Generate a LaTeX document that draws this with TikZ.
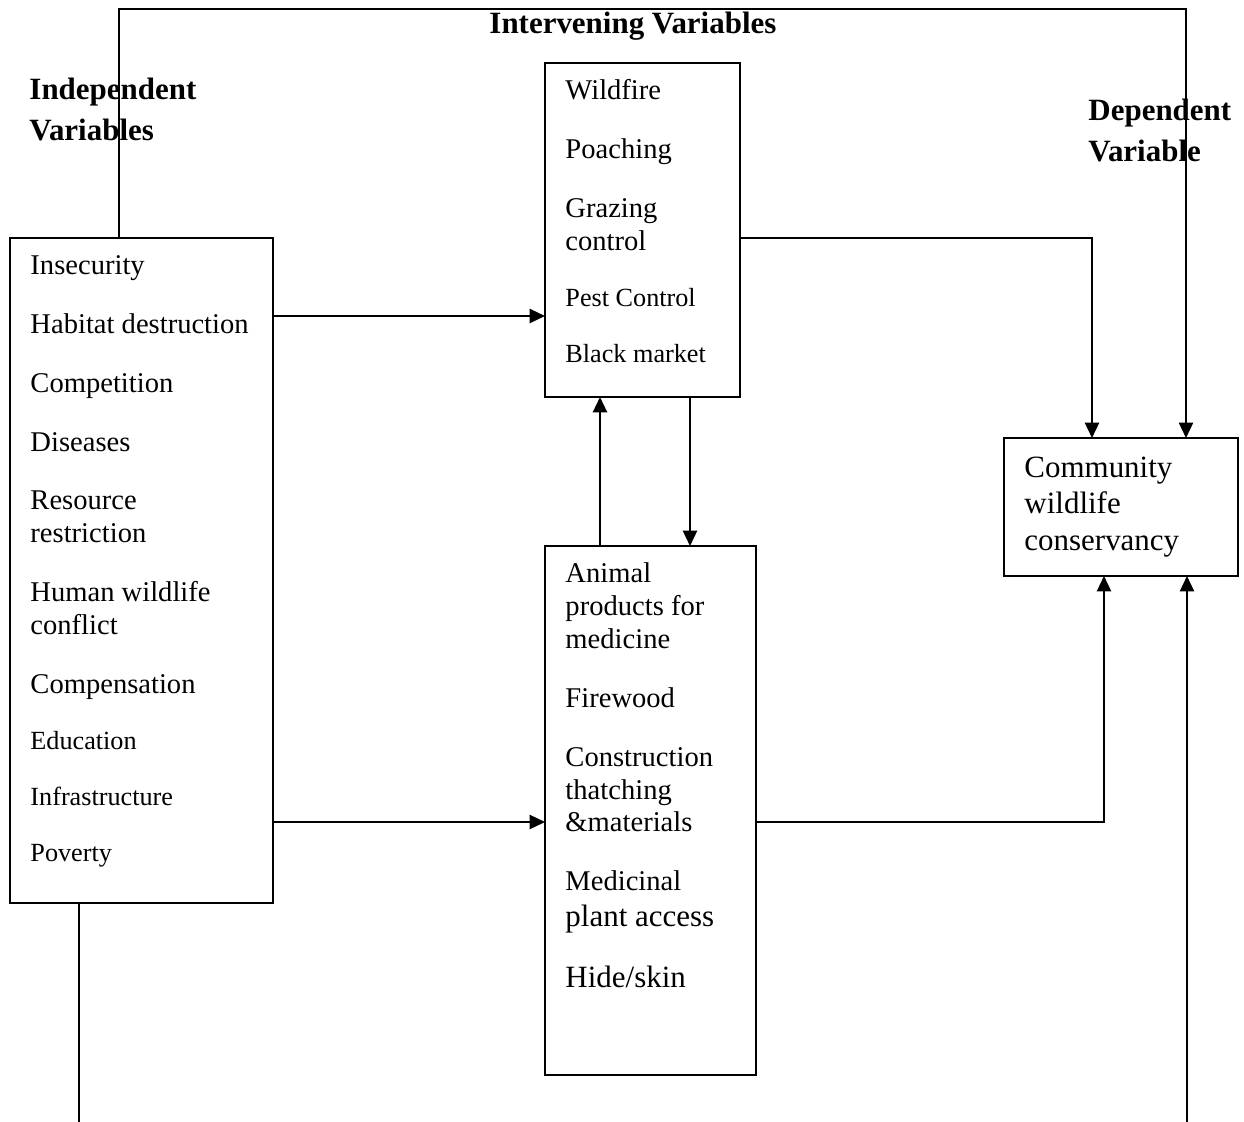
\documentclass[tikz,border=0pt]{standalone}
\usepackage{fontspec}
\setmainfont{Liberation Serif}
\usetikzlibrary{arrows.meta}
\newdimen\px \px=0.42pt

\begin{document}
\begin{tikzpicture}[x=0.42pt,y=-0.42pt]
\tikzstyle{every node}+=[inner sep=0pt]
\tikzstyle{box}=[draw, line width=0.8pt, outer sep=0pt]
\tikzstyle{itm}=[anchor=base west, font=\fontsize{12}{14}\selectfont]
\tikzstyle{sml}=[anchor=base west, font=\fontsize{11}{13}\selectfont]
\tikzstyle{big}=[anchor=base west, font=\fontsize{13}{15}\selectfont]
\tikzstyle{head}=[anchor=base west, font=\fontsize{13}{15}\selectfont\bfseries]
\tikzstyle{arr}=[line width=0.8pt, -{Triangle[length=6.5pt,width=6pt]}]
\useasboundingbox (0,0) rectangle (1244,1122);
% boxes
\node [box, minimum width=263\px, minimum height=665\px] (indep) at (141.5,570.5) {};
\node [box, minimum width=195\px, minimum height=334\px] (interv) at (642.5,230) {};
\node [box, minimum width=211\px, minimum height=529\px] (prod) at (650.5,810.5) {};
\node [box, minimum width=234\px, minimum height=138\px] (comm) at (1121,507) {};
% headings
\node [head] (hint) at (489,33) {Intervening Variables};
\node [head] (hind1) at (29,99) {Independent};
\node [head] (hind2) at (29,140) {Variables};
\node [head] (hdep1) at (1088,120) {Dependent};
\node [head] (hdep2) at (1088,161) {Variable};
% independent variables
\node [itm] (insec) at (30,274) {Insecurity};
\node [itm] (habit) at (30,333) {Habitat destruction};
\node [itm] (compet) at (30,392) {Competition};
\node [itm] (disease) at (30,451) {Diseases};
\node [itm] (res1) at (30,509) {Resource};
\node [itm] (res2) at (30,542) {restriction};
\node [itm] (hwc1) at (30,601) {Human wildlife};
\node [itm] (hwc2) at (30,634) {conflict};
\node [itm] (compen) at (30,693) {Compensation};
\node [sml] (educ) at (30,749) {Education};
\node [sml] (infra) at (30,805) {Infrastructure};
\node [sml] (pov) at (30,861) {Poverty};
% intervening variables
\node [itm] (fire) at (565,99) {Wildfire};
\node [itm] (poach) at (565,158) {Poaching};
\node [itm] (graz1) at (565,217) {Grazing};
\node [itm] (graz2) at (565,250) {control};
\node [sml] (pest) at (565,306) {Pest Control};
\node [sml] (black) at (565,362) {Black market};
% products
\node [itm] (anim1) at (565,582) {Animal};
\node [itm] (anim2) at (565,615) {products for};
\node [itm] (anim3) at (565,648) {medicine};
\node [itm] (wood) at (565,707) {Firewood};
\node [itm] (cons1) at (565,766) {Construction};
\node [itm] (cons2) at (565,799) {thatching};
\node [itm] (cons3) at (565,831) {\&materials};
\node [itm] (med1) at (565,890) {Medicinal};
\node [big] (med2) at (565,926) {plant access};
\node [big] (hide) at (565,987) {Hide/skin};
% dependent variable
\node [big] (cwc1) at (1024,477) {Community};
\node [big] (cwc2) at (1024,513) {wildlife};
\node [big] (cwc3) at (1024,550) {conservancy};
% loose ends at the bottom
\coordinate (lowL) at (79,1122);
\coordinate (lowR) at (1187,1122);
% connectors
\draw [arr] (indep.north -| 119,0) |- (1186,9) -- (comm.north -| 1186,0);
\draw [arr] (indep.east |- 0,316) -- (interv.west |- 0,316);
\draw [arr] (indep.east |- 0,822) -- (prod.west |- 0,822);
\draw [arr] (interv.east |- 0,238) -| (comm.north -| 1092,0);
\draw [arr] (prod.north -| 600,0) -- (interv.south -| 600,0);
\draw [arr] (interv.south -| 690,0) -- (prod.north -| 690,0);
\draw [arr] (prod.east |- 0,822) -| (comm.south -| 1104,0);
\draw [line width=0.8pt] (indep.south -| lowL) -- (lowL);
\draw [arr] (lowR) -- (comm.south -| lowR);
\end{tikzpicture}
\end{document}
